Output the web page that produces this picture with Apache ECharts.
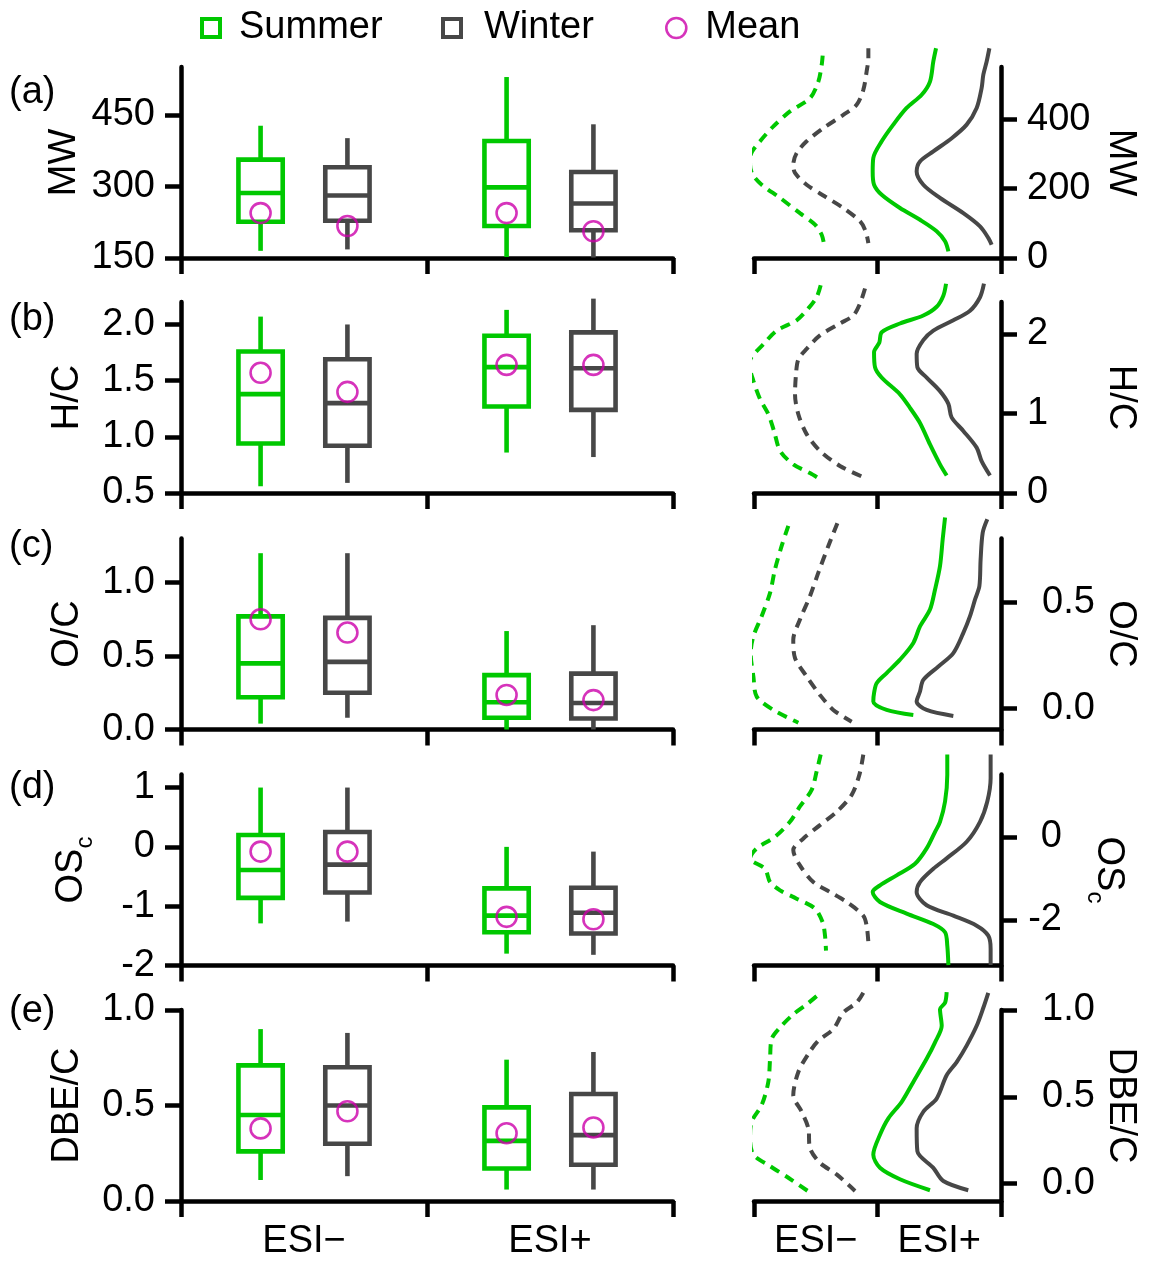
<!DOCTYPE html>
<html><head><meta charset="utf-8">
<script src="https://cdn.jsdelivr.net/npm/echarts@6/dist/echarts.min.js"></script>
<style>html,body{margin:0;padding:0;background:#fff}#c{width:1155px;height:1266px}</style>
</head><body><div id="c"></div>
<script>
// ---------------- data ----------------
const categories = ['ESI\u2212', 'ESI+'];
const panelLetters = ['(a)', '(b)', '(c)', '(d)', '(e)'];

// box statistics per category [min, Q1, median, Q3, max]
const mwSummerBox = [[165, 226, 286, 356, 427], [152, 217, 298, 395, 529]];
const mwWinterBox = [[168, 228, 281, 340, 401], [151, 208, 264, 330, 430]];
const mwSummerMean = [244, 244];
const mwWinterMean = [217, 206];

const hcSummerBox = [[0.56, 0.94, 1.38, 1.76, 2.07], [0.86, 1.27, 1.62, 1.90, 2.13]];
const hcWinterBox = [[0.59, 0.92, 1.30, 1.69, 2.00], [0.82, 1.24, 1.61, 1.93, 2.23]];
const hcSummerMean = [1.57, 1.64];
const hcWinterMean = [1.40, 1.64];

const ocSummerBox = [[0.04, 0.22, 0.45, 0.77, 1.20], [0.0, 0.08, 0.185, 0.37, 0.67]];
const ocWinterBox = [[0.08, 0.25, 0.46, 0.76, 1.20], [0.0, 0.075, 0.18, 0.38, 0.71]];
const ocSummerMean = [0.75, 0.235];
const ocWinterMean = [0.66, 0.20];

const oscSummerBox = [[-1.29, -0.86, -0.39, 0.20, 1.0], [-1.80, -1.44, -1.16, -0.70, 0.0]];
const oscWinterBox = [[-1.26, -0.77, -0.30, 0.25, 1.0], [-1.82, -1.46, -1.11, -0.69, -0.08]];
const oscSummerMean = [-0.08, -1.18];
const oscWinterMean = [-0.08, -1.22];

const dbeSummerBox = [[0.11, 0.26, 0.45, 0.71, 0.90], [0.06, 0.17, 0.315, 0.49, 0.74]];
const dbeWinterBox = [[0.13, 0.30, 0.50, 0.70, 0.88], [0.06, 0.19, 0.345, 0.56, 0.78]];
const dbeSummerMean = [0.38, 0.355];
const dbeWinterMean = [0.47, 0.385];

// distribution curves [offset, value]; ESI- in 0..1, ESI+ in 1..2
const mwSumNeg = [[0.556,583],[0.548,556],[0.521,508],[0.453,460],[0.291,422],[0.157,379],[0.049,336],[-0.027,297],[-0.032,269],[-0.011,240],[0.062,211],[0.211,173],[0.372,129],[0.494,96],[0.548,67],[0.567,40]];
const mwWinNeg = [[0.926,604],[0.926,576],[0.912,537],[0.885,484],[0.831,441],[0.723,412],[0.561,374],[0.426,336],[0.345,302],[0.318,269],[0.332,245],[0.426,211],[0.575,177],[0.723,144],[0.858,106],[0.904,77],[0.926,43]];
const mwSumPos = [[1.474,604],[1.452,566],[1.425,508],[1.358,470],[1.236,432],[1.128,384],[1.034,336],[0.966,288],[0.961,249],[0.972,211],[1.034,182],[1.182,144],[1.344,110],[1.479,77],[1.547,48],[1.574,19]];
const mwWinPos = [[1.906,604],[1.884,566],[1.857,528],[1.843,489],[1.803,432],[1.722,384],[1.601,345],[1.452,307],[1.344,278],[1.317,249],[1.371,211],[1.506,173],[1.695,129],[1.830,91],[1.897,58],[1.924,38]];

const hcSumNeg = [[0.540,2.61],[0.507,2.46],[0.44,2.32],[0.345,2.17],[0.184,2.04],[0.076,1.87],[-0.019,1.71],[-0.038,1.62],[-0.005,1.41],[0.049,1.18],[0.116,0.99],[0.162,0.78],[0.211,0.53],[0.318,0.36],[0.453,0.25],[0.529,0.18]];
const hcWinNeg = [[0.899,2.57],[0.858,2.38],[0.804,2.23],[0.696,2.13],[0.534,1.98],[0.426,1.81],[0.359,1.68],[0.340,1.49],[0.332,1.24],[0.359,0.99],[0.426,0.74],[0.534,0.53],[0.696,0.34],[0.885,0.20]];
const hcSumPos = [[1.555,2.63],[1.533,2.48],[1.479,2.34],[1.371,2.23],[1.182,2.13],[1.034,2.02],[1.015,1.89],[0.972,1.77],[0.98,1.58],[1.034,1.45],[1.182,1.24],[1.263,1.07],[1.344,0.88],[1.425,0.61],[1.506,0.36],[1.56,0.22]];
const hcWinPos = [[1.862,2.63],[1.83,2.46],[1.749,2.29],[1.614,2.17],[1.452,2.04],[1.371,1.92],[1.317,1.75],[1.323,1.58],[1.398,1.45],[1.506,1.28],[1.574,1.12],[1.6,0.95],[1.695,0.78],[1.803,0.57],[1.843,0.40],[1.911,0.22]];

const ocSumNeg = [[0.278,0.86],[0.224,0.765],[0.17,0.655],[0.13,0.544],[0.062,0.434],[-0.005,0.339],[-0.027,0.26],[-0.005,0.15],[0.022,0.055],[0.157,-0.008],[0.359,-0.068]];
const ocWinNeg = [[0.675,0.872],[0.602,0.765],[0.521,0.639],[0.453,0.528],[0.372,0.418],[0.318,0.323],[0.332,0.237],[0.426,0.15],[0.534,0.063],[0.642,-0.008],[0.791,-0.063]];
const ocSumPos = [[1.547,0.899],[1.528,0.797],[1.506,0.67],[1.466,0.56],[1.425,0.465],[1.344,0.386],[1.29,0.308],[1.182,0.229],[1.074,0.166],[0.993,0.118],[0.972,0.071],[0.966,0.032],[1.074,-0.008],[1.29,-0.032]];
const ocWinPos = [[1.889,0.891],[1.852,0.828],[1.835,0.702],[1.825,0.576],[1.79,0.513],[1.749,0.434],[1.695,0.355],[1.614,0.26],[1.493,0.197],[1.371,0.134],[1.344,0.079],[1.317,0.032],[1.398,-0.008],[1.614,-0.036]];

const oscSumNeg = [[0.54,1.98],[0.507,1.57],[0.467,1.13],[0.372,0.73],[0.291,0.36],[0.17,0],[0.022,-0.28],[-0.032,-0.52],[0.089,-0.77],[0.13,-1.09],[0.211,-1.29],[0.345,-1.49],[0.494,-1.73],[0.556,-2.06],[0.575,-2.38],[0.583,-2.74]];
const oscWinNeg = [[0.885,1.98],[0.853,1.49],[0.791,1.01],[0.669,0.60],[0.534,0.28],[0.4,-0.04],[0.318,-0.32],[0.372,-0.69],[0.48,-1.09],[0.615,-1.33],[0.75,-1.57],[0.885,-1.90],[0.912,-2.14],[0.926,-2.54]];
const oscSumPos = [[1.565,1.98],[1.565,1.49],[1.547,0.85],[1.506,0.36],[1.466,0.12],[1.398,-0.28],[1.304,-0.65],[1.155,-0.93],[1.02,-1.17],[0.961,-1.33],[1.02,-1.57],[1.236,-1.85],[1.452,-2.1],[1.547,-2.3],[1.565,-2.62],[1.574,-3.09]];
const oscWinPos = [[1.916,1.98],[1.916,1.41],[1.889,0.85],[1.83,0.36],[1.722,-0.12],[1.56,-0.52],[1.452,-0.77],[1.344,-1.09],[1.317,-1.33],[1.398,-1.65],[1.614,-1.90],[1.803,-2.14],[1.897,-2.38],[1.916,-2.70],[1.916,-3.09]];

const dbeSumNeg = [[0.507,1.08],[0.426,1.032],[0.318,0.975],[0.211,0.899],[0.143,0.833],[0.13,0.719],[0.116,0.586],[0.062,0.452],[-0.019,0.357],[-0.032,0.262],[-0.005,0.167],[0.13,0.101],[0.278,0.034],[0.453,-0.051]];
const dbeWinNeg = [[0.885,1.099],[0.831,1.042],[0.723,0.985],[0.642,0.89],[0.521,0.823],[0.44,0.747],[0.359,0.643],[0.318,0.51],[0.386,0.414],[0.44,0.319],[0.453,0.205],[0.534,0.12],[0.669,0.053],[0.818,-0.042]];
const dbeSumPos = [[1.56,1.103],[1.547,1.042],[1.506,1.004],[1.52,0.909],[1.466,0.814],[1.398,0.719],[1.29,0.586],[1.196,0.471],[1.088,0.376],[1.02,0.281],[0.966,0.167],[1.02,0.091],[1.182,0.025],[1.425,-0.038]];
const dbeWinPos = [[1.897,1.099],[1.857,1.013],[1.803,0.909],[1.722,0.795],[1.641,0.70],[1.56,0.624],[1.479,0.49],[1.371,0.414],[1.317,0.319],[1.323,0.186],[1.452,0.091],[1.533,0.015],[1.735,-0.038]];

// axis tick values
const mwLeftTicks = [150, 300, 450];
const mwRightTicks = [0, 200, 400];
const hcLeftTicks = [0.5, 1.0, 1.5, 2.0];
const hcRightTicks = [0, 1, 2];
const ocLeftTicks = [0, 0.5, 1.0];
const ocRightTicks = [0, 0.5];
const oscLeftTicks = [-2, -1, 0, 1];
const oscRightTicks = [-2, 0];
const dbeLeftTicks = [0, 0.5, 1.0];
const dbeRightTicks = [0, 0.5, 1.0];

// ---------------- layout / style ----------------
const GREEN = '#00c800', GRAY = '#474747', MAGENTA = '#cc00aa';
const FONT = "'Liberation Sans', Arial, Helvetica, sans-serif";
const FS = 38;
const AXW = 4.5;
const rowTops = [67, 302, 538.5, 774.5, 1010];
const rowH = 191;
const LEFT_X = 181, LEFT_W = 492, RIGHT_X = 754, RIGHT_W = 247;
const BOX_OFF = 0.1765, BOX_HALF = 0.09;
const letterY = [93, 320, 547, 788, 1012];
const leftNameGap = [97, 94, 94, 84, 94];
const rightNameGap = [100, 100, 100, 82, 100];
const rightLabelMargin = [26, 26, 41, 61, 41];
const rightLabelAlign = ['left', 'left', 'left', 'right', 'left'];

const rows = [
  {name: 'MW', lmin: 150, lmax: 550, lt: mwLeftTicks, ldec: 0, rmin: 0, rmax: 550, rt: mwRightTicks, rdec: 0,
   sb: mwSummerBox, wb: mwWinterBox, sm: mwSummerMean, wm: mwWinterMean, curves: [mwSumNeg, mwWinNeg, mwSumPos, mwWinPos]},
  {name: 'H/C', lmin: 0.5, lmax: 2.2, lt: hcLeftTicks, ldec: 1, rmin: 0, rmax: 2.4, rt: hcRightTicks, rdec: 0,
   sb: hcSummerBox, wb: hcWinterBox, sm: hcSummerMean, wm: hcWinterMean, curves: [hcSumNeg, hcWinNeg, hcSumPos, hcWinPos]},
  {name: 'O/C', lmin: 0, lmax: 1.3, lt: ocLeftTicks, ldec: 1, rmin: -0.1, rmax: 0.8, rt: ocRightTicks, rdec: 1,
   sb: ocSummerBox, wb: ocWinterBox, sm: ocSummerMean, wm: ocWinterMean, curves: [ocSumNeg, ocWinNeg, ocSumPos, ocWinPos]},
  {name: '{m|OS}{s|c}', lmin: -2, lmax: 1.22, lt: oscLeftTicks, ldec: 0, rmin: -3.1, rmax: 1.5, rt: oscRightTicks, rdec: 0,
   sb: oscSummerBox, wb: oscWinterBox, sm: oscSummerMean, wm: oscWinterMean, curves: [oscSumNeg, oscWinNeg, oscSumPos, oscWinPos]},
  {name: 'DBE/C', lmin: 0, lmax: 1.0, lt: dbeLeftTicks, ldec: 1, rmin: -0.1, rmax: 1.0, rt: dbeRightTicks, rdec: 1,
   sb: dbeSummerBox, wb: dbeWinterBox, sm: dbeSummerMean, wm: dbeWinterMean, curves: [dbeSumNeg, dbeWinNeg, dbeSumPos, dbeWinPos]}
];

const richName = {
  m: {fontSize: FS, fontFamily: FONT, color: '#000', verticalAlign: 'top'},
  s: {fontSize: 24, fontFamily: FONT, color: '#000', verticalAlign: 'top', padding: [20, 0, 0, 0]}
};

function boxRender(off, color) {
  return function (params, api) {
    const cat = api.value(0);
    const band = api.size([1, 0])[0];
    const cx = api.coord([cat, api.value(3)])[0] + off * band;
    const y = i => api.coord([cat, api.value(i)])[1];
    const yMin = y(1), yQ1 = y(2), yMed = y(3), yQ3 = y(4), yMax = y(5);
    const hw = BOX_HALF * band;
    const ls = {stroke: color, lineWidth: 4.6, fill: null};
    return {type: 'group', children: [
      {type: 'line', shape: {x1: cx, y1: yQ3, x2: cx, y2: yMax}, style: ls},
      {type: 'line', shape: {x1: cx, y1: yQ1, x2: cx, y2: yMin}, style: ls},
      {type: 'rect', shape: {x: cx - hw, y: yQ3, width: 2 * hw, height: yQ1 - yQ3}, style: {stroke: color, lineWidth: 4.6, fill: '#fff'}},
      {type: 'line', shape: {x1: cx - hw, y1: yMed, x2: cx + hw, y2: yMed}, style: ls}
    ]};
  };
}

const grid = [], xAxis = [], yAxis = [], series = [], graphic = [];
const tickStyle = {show: true, length: 16, inside: false, lineStyle: {color: '#000', width: AXW}};
const lineStyleAxis = {show: true, onZero: false, lineStyle: {color: '#000', width: AXW}};

rows.forEach((r, i) => {
  grid.push({left: LEFT_X, top: rowTops[i], width: LEFT_W, height: rowH, outerBoundsMode: 'none', containLabel: false});
  grid.push({left: RIGHT_X, top: rowTops[i], width: RIGHT_W, height: rowH, outerBoundsMode: 'none', containLabel: false});
});
// category x axes: left (0..4), right (5..9); hidden value axes for curves (10..14)
rows.forEach((r, i) => {
  xAxis.push({type: 'category', gridIndex: 2 * i, data: categories, boundaryGap: true, position: 'bottom',
    axisLine: lineStyleAxis, axisTick: Object.assign({alignWithLabel: false}, tickStyle),
    axisLabel: {show: i === 4, fontSize: FS, fontFamily: FONT, color: '#000', margin: 22},
    splitLine: {show: false}});
});
rows.forEach((r, i) => {
  xAxis.push({type: 'category', gridIndex: 2 * i + 1, data: categories, boundaryGap: true, position: 'bottom',
    axisLine: lineStyleAxis, axisTick: Object.assign({alignWithLabel: false}, tickStyle),
    axisLabel: {show: i === 4, fontSize: FS, fontFamily: FONT, color: '#000', margin: 22},
    splitLine: {show: false}});
});
rows.forEach((r, i) => {
  xAxis.push({type: 'value', gridIndex: 2 * i + 1, min: 0, max: 2, show: false, position: 'top',
    axisLine: {show: false, onZero: false}, splitLine: {show: false}});
});
// y axes: left (0..4), right (5..9)
rows.forEach((r, i) => {
  yAxis.push({type: 'value', gridIndex: 2 * i, min: r.lmin, max: r.lmax, position: 'left',
    axisLine: lineStyleAxis,
    axisTick: Object.assign({customValues: r.lt}, tickStyle),
    axisLabel: {customValues: r.lt, formatter: v => v.toFixed(r.ldec), fontSize: FS, fontFamily: FONT, color: '#000', margin: 26},
    splitLine: {show: false},
    name: r.name, nameLocation: 'middle', nameGap: leftNameGap[i],
    nameTextStyle: {fontSize: FS, fontFamily: FONT, color: '#000', rich: richName}});
});
rows.forEach((r, i) => {
  yAxis.push({type: 'value', gridIndex: 2 * i + 1, min: r.rmin, max: r.rmax, position: 'right',
    axisLine: lineStyleAxis,
    axisTick: Object.assign({customValues: r.rt}, tickStyle),
    axisLabel: {customValues: r.rt, formatter: v => v.toFixed(r.rdec), fontSize: FS, fontFamily: FONT, color: '#000',
      margin: rightLabelMargin[i], align: rightLabelAlign[i]},
    splitLine: {show: false},
    name: r.name, nameLocation: 'middle', nameGap: rightNameGap[i], nameRotate: -90,
    nameTextStyle: {fontSize: FS, fontFamily: FONT, color: '#000', rich: richName}});
});

rows.forEach((r, i) => {
  const toData = box => box.map((b, c) => [c].concat(b));
  series.push({type: 'custom', name: 'Summer', xAxisIndex: i, yAxisIndex: i,
    data: toData(r.sb), encode: {x: 0, y: [1, 2, 3, 4, 5]},
    itemStyle: {color: '#fff', borderColor: GREEN, borderWidth: 4},
    renderItem: boxRender(-BOX_OFF, GREEN), z: 2, silent: true});
  series.push({type: 'custom', name: 'Winter', xAxisIndex: i, yAxisIndex: i,
    data: toData(r.wb), encode: {x: 0, y: [1, 2, 3, 4, 5]},
    itemStyle: {color: '#fff', borderColor: GRAY, borderWidth: 4},
    renderItem: boxRender(BOX_OFF, GRAY), z: 2, silent: true});
  const meanStyle = {color: 'rgba(255,255,255,0)', borderColor: MAGENTA, borderWidth: 2.6};
  series.push({type: 'scatter', name: 'Mean', xAxisIndex: i, yAxisIndex: i,
    data: r.sm.map((m, c) => [c, m]), symbol: 'circle', symbolSize: 20,
    symbolOffset: [-BOX_OFF * LEFT_W / 2, 0], itemStyle: meanStyle, z: 5, silent: true});
  series.push({type: 'scatter', name: 'Mean', xAxisIndex: i, yAxisIndex: i,
    data: r.wm.map((m, c) => [c, m]), symbol: 'circle', symbolSize: 20,
    symbolOffset: [BOX_OFF * LEFT_W / 2, 0], itemStyle: meanStyle, z: 5, silent: true});
  const cstyle = [[GREEN, [10, 7]], [GRAY, [10, 7]], [GREEN, 'solid'], [GRAY, 'solid']];
  r.curves.forEach((cv, k) => {
    series.push({type: 'line', name: 'curve' + i + '_' + k, xAxisIndex: 10 + i, yAxisIndex: 5 + i,
      data: cv, smooth: 0.3, symbol: 'none', showSymbol: false, clip: false, silent: true,
      lineStyle: {color: cstyle[k][0], width: 4, type: cstyle[k][1]}, z: 3});
  });
  graphic.push({type: 'text', x: 9, y: letterY[i],
    style: {text: panelLetters[i], fontSize: FS, fontFamily: FONT, fill: '#000', verticalAlign: 'middle', align: 'left'}});
});

const legText = {fontSize: FS, fontFamily: FONT, color: '#000'};
const legend = [
  {data: [{name: 'Summer', icon: 'rect', itemStyle: {color: '#fff', borderColor: GREEN, borderWidth: 4}}],
   left: 195, top: 4, itemWidth: 18, itemHeight: 18, selectedMode: false, textStyle: Object.assign({padding: [0, 0, 0, 14]}, legText)},
  {data: [{name: 'Winter', icon: 'rect', itemStyle: {color: '#fff', borderColor: GRAY, borderWidth: 4}}],
   left: 436, top: 4, itemWidth: 18, itemHeight: 18, selectedMode: false, textStyle: Object.assign({padding: [0, 0, 0, 18]}, legText)},
  {data: [{name: 'Mean', icon: 'circle', itemStyle: {color: 'rgba(255,255,255,0)', borderColor: MAGENTA, borderWidth: 2.6}}],
   left: 660, top: 4, itemWidth: 20, itemHeight: 20, selectedMode: false, textStyle: Object.assign({padding: [0, 0, 0, 14]}, legText)}
];

const chart = echarts.init(document.getElementById('c'), null, {renderer: 'canvas'});
chart.setOption({
  backgroundColor: '#fff',
  animation: false,
  textStyle: {fontFamily: FONT},
  legend: legend,
  grid: grid, xAxis: xAxis, yAxis: yAxis, series: series, graphic: graphic
});
</script></body></html>
